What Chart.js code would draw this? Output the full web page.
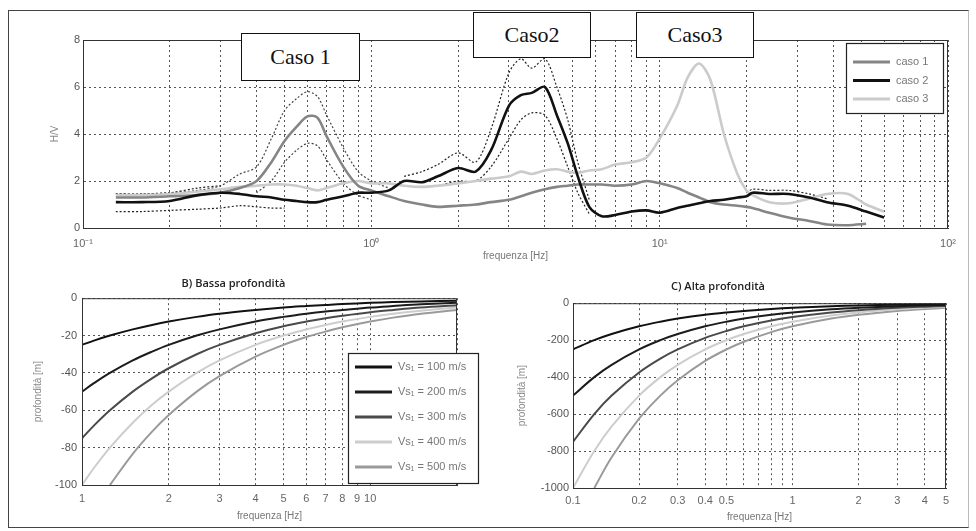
<!DOCTYPE html>
<html>
<head>
<meta charset="utf-8">
<script src="https://cdn.jsdelivr.net/npm/chart.js@4.4.1/dist/chart.umd.min.js"></script>
<style>
  body { margin: 0; background: #fff; width: 976px; height: 531px; position: relative; overflow: hidden; }
  #frame { position: absolute; left: 8px; top: 10px; width: 961px; height: 518px; border: 1px solid #444; border-right-color: #bbb; box-sizing: border-box; }
  canvas { position: absolute; }
  .note { position: absolute; background: #fff; border: 1.5px solid #111; box-sizing: border-box;
          font-family: 'Liberation Serif', 'Times New Roman', serif; font-size: 22px; color: #111;
          display: flex; align-items: center; justify-content: center; }
</style>
</head>
<body>
<div id="frame"></div>
<canvas id="hv" width="940" height="250" style="left:20px;top:20px"></canvas>
<canvas id="bassa" width="470" height="255" style="left:10px;top:270px"></canvas>
<canvas id="alta" width="470" height="255" style="left:490px;top:270px"></canvas>
<div class="note" style="left:241px;top:33px;width:119px;height:48px">Caso 1</div>
<div class="note" style="left:473px;top:12px;width:118px;height:46px">Caso2</div>
<div class="note" style="left:636px;top:12px;width:118px;height:46px">Caso3</div>

<script>
// ---- H/V curves (top) ----
const freqTop = [0.13, 0.16, 0.2, 0.25, 0.3, 0.35, 0.4, 0.45, 0.5, 0.55, 0.6, 0.65, 0.7, 0.8, 0.9, 1.0, 1.15, 1.3, 1.5, 1.7,
                 2.0, 2.3, 2.6, 3.0, 3.3, 3.6, 4.0, 4.4, 4.8, 5.2, 5.7, 6.3, 7, 8, 9, 10, 11.5, 12.5, 13.7, 15,
                 16.7, 18.6, 20, 21, 24, 28, 33, 38, 45, 52, 60];
const caso1 = [1.3, 1.3, 1.35, 1.4, 1.5, 1.7, 2.0, 2.8, 3.7, 4.3, 4.75, 4.7, 3.9, 2.6, 1.8, 1.6, 1.35, 1.15, 1.0, 0.9,
               0.95, 1.0, 1.1, 1.2, 1.35, 1.5, 1.65, 1.75, 1.8, 1.85, 1.85, 1.85, 1.8, 1.85, 2.0, 1.9, 1.7, 1.5, 1.3, 1.1,
               1.0, 0.95, 0.9, 0.85, 0.65, 0.45, 0.3, 0.15, 0.12, 0.18, null];
const caso1Up = [1.45, 1.45, 1.5, 1.6, 1.8, 2.3, 2.6, 3.8, 5.0, 5.5, 5.8, 5.6, 4.8, 3.4, 2.4, 2.0, 1.7, null, null, null,
                 null, null, null, null, null, null, null, null, null, null, null, null, null, null, null, null, null, null, null, null,
                 null, null, null, null, null, null, null, null, null, null, null];
const caso1Low = [null, null, null, null, null, null, 1.5, 2.0, 2.8, 3.3, 3.6, 3.5, 2.9, 1.9, 1.4, 1.2, null, null, null, null,
                  null, null, null, null, null, null, null, null, null, null, null, null, null, null, null, null, null, null, null, null,
                  null, null, null, null, null, null, null, null, null, null, null];
const caso2 = [1.1, 1.1, 1.15, 1.4, 1.5, 1.45, 1.35, 1.3, 1.2, 1.15, 1.1, 1.1, 1.2, 1.35, 1.5, 1.5, 1.6, 2.0, 1.95, 2.2,
               2.55, 2.4, 3.3, 5.2, 5.65, 5.75, 6.0, 4.8, 3.6, 2.2, 0.9, 0.5, 0.55, 0.7, 0.75, 0.65, 0.85, 0.95, 1.05, 1.15,
               1.2, 1.3, 1.35, 1.5, 1.45, 1.45, 1.3, 1.1, 0.95, 0.7, 0.45];
const caso2Up = [1.45, 1.45, 1.5, 1.7, 1.8, null, null, null, null, null, null, null, null, null, null, null, null, 2.2, 2.4, 2.7,
                 3.2, 2.8, 4.2, 6.6, 7.2, 6.8, 7.2, 6.0, 4.6, 2.8, 1.2, null, null, null, null, null, null, null, null, null,
                 null, null, 1.5, 1.65, 1.6, 1.6, 1.45, 1.25, null, null, null];
const caso2Low = [0.7, 0.7, 0.75, 0.8, 0.85, 0.95, 0.9, 0.85, 0.85, null, null, null, null, null, null, null, null, null, null, 1.8,
                  2.0, 2.0, 2.6, 3.8, 4.6, 4.9, 4.8, 3.8, 2.6, 1.5, 0.6, null, null, null, null, null, null, null, null, null,
                  null, null, null, null, null, null, null, null, null, null, null];
const caso3 = [1.4, 1.4, 1.45, 1.55, 1.65, 1.75, 1.8, 1.85, 1.85, 1.8, 1.7, 1.6, 1.7, 1.9, 2.0, 1.9, 1.9, 1.8, 1.75, 1.8,
               1.9, 2.0, 2.1, 2.2, 2.4, 2.3, 2.45, 2.5, 2.4, 2.35, 2.45, 2.5, 2.7, 2.8, 3.0, 3.8, 5.2, 6.4, 7.0, 6.3,
               4.0, 2.3, 1.6, 1.4, 1.1, 1.05, 1.25, 1.45, 1.45, 1.0, 0.7];
const casoLabels = ['caso 1', 'caso 2', 'caso 3'];
const topTicks = [0.1, 0.2, 0.3, 0.4, 0.5, 0.6, 0.7, 0.8, 0.9, 1, 2, 3, 4, 5, 6, 7, 8, 9,
                  10, 20, 30, 40, 50, 60, 70, 80, 90, 100];
const topDecades = [0.1, 1, 10, 100];
const topDecadeLabels = ['10⁻¹', '10⁰', '10¹', '10²'];

// ---- B) Bassa profondita ----
const vsValues = [100, 200, 300, 400, 500];
const freqB = [1, 1.1, 1.25, 1.5, 1.75, 2, 2.5, 3, 4, 5, 6, 7, 8, 10, 12, 15, 20];
const depthB100 = [-25, -22.7, -20, -16.7, -14.3, -12.5, -10, -8.3, -6.3, -5, -4.2, -3.6, -3.1, -2.5, -2.1, -1.7, -1.3];
const depthB200 = [-50, -45.5, -40, -33.3, -28.6, -25, -20, -16.7, -12.5, -10, -8.3, -7.1, -6.3, -5, -4.2, -3.3, -2.5];
const depthB300 = [-75, -68.2, -60, -50, -42.9, -37.5, -30, -25, -18.8, -15, -12.5, -10.7, -9.4, -7.5, -6.3, -5, -3.8];
const depthB400 = [-100, -90.9, -80, -66.7, -57.1, -50, -40, -33.3, -25, -20, -16.7, -14.3, -12.5, -10, -8.3, -6.7, -5];
const depthB500 = [null, null, -100, -83.3, -71.4, -62.5, -50, -41.7, -31.3, -25, -20.8, -17.9, -15.6, -12.5, -10.4, -8.3, -6.3];
const ticksB = [1, 2, 3, 4, 5, 6, 7, 8, 9, 10, 20];
const labelsB = ['1', '2', '3', '4', '5', '6', '7', '8', '9', '10', ''];

// ---- C) Alta profondita ----
const freqC = [0.1, 0.125, 0.15, 0.2, 0.25, 0.3, 0.4, 0.5, 0.6, 0.8, 1, 1.5, 2, 3, 4, 5];
const depthC100 = [-250, -200, -166.7, -125, -100, -83.3, -62.5, -50, -41.7, -31.3, -25, -16.7, -12.5, -8.3, -6.3, -5];
const depthC200 = [-500, -400, -333.3, -250, -200, -166.7, -125, -100, -83.3, -62.5, -50, -33.3, -25, -16.7, -12.5, -10];
const depthC300 = [-750, -600, -500, -375, -300, -250, -187.5, -150, -125, -93.8, -75, -50, -37.5, -25, -18.8, -15];
const depthC400 = [-1000, -800, -666.7, -500, -400, -333.3, -250, -200, -166.7, -125, -100, -66.7, -50, -33.3, -25, -20];
const depthC500 = [null, -1000, -833.3, -625, -500, -416.7, -312.5, -250, -208.3, -156.3, -125, -83.3, -62.5, -41.7, -31.3, -25];
const ticksC = [0.1, 0.2, 0.3, 0.4, 0.5, 0.6, 0.7, 0.8, 0.9, 1, 2, 3, 4, 5];
const labelsC = ['0.1', '0.2', '0.3', '0.4', '0.5', '', '', '', '', '1', '2', '3', '4', '5'];

const vsColors = ['#111111', '#1c1c1c', '#4a4a4a', '#cdcdcd', '#9a9a9a'];
const casoColors = ['#858585', '#111111', '#cbcbcb'];

const AXIS_FONT = 'Liberation Sans';

function pts(xs, ys) {
    return xs.map((x, i) => ({ x: x, y: ys[i] }));
}

// box around the plot area, MATLAB style
const frameBox = {
    id: 'frameBox',
    afterDraw(chart) {
        const a = chart.chartArea, ctx = chart.ctx;
        ctx.save();
        ctx.strokeStyle = '#333';
        ctx.lineWidth = 1;
        ctx.strokeRect(a.left + 0.5, a.top + 0.5, a.right - a.left - 1, a.bottom - a.top);
        ctx.restore();
    }
};

// small boxed legend drawn at a fixed spot in the canvas
function boxLegend(box, labels, colors, rowGap, firstRow) {
    return {
        id: 'boxLegend',
        afterDraw(chart) {
            const ctx = chart.ctx;
            ctx.save();
            ctx.fillStyle = '#fff';
            ctx.fillRect(box.x, box.y, box.w, box.h);
            ctx.strokeStyle = '#222';
            ctx.lineWidth = 1.2;
            ctx.strokeRect(box.x + 0.5, box.y + 0.5, box.w, box.h);
            ctx.font = '11px "' + AXIS_FONT + '"';
            ctx.textBaseline = 'middle';
            labels.forEach((lab, i) => {
                const y = box.y + firstRow + i * rowGap;
                ctx.strokeStyle = colors[i];
                ctx.lineWidth = 3;
                ctx.beginPath();
                ctx.moveTo(box.x + 7, y);
                ctx.lineTo(box.x + 44, y);
                ctx.stroke();
                ctx.fillStyle = '#777';
                ctx.fillText(lab, box.x + 50, y);
            });
            ctx.restore();
        }
    };
}

function logAxis(min, max, tickValues, labelFor, padding, height, titlePad) {
    return {
        type: 'logarithmic',
        min: min,
        max: max,
        afterBuildTicks: (scale) => { scale.ticks = tickValues.map(v => ({ value: v })); },
        afterFit: (scale) => {
            scale.height = height;
            scale.paddingLeft = 0;
            scale.paddingRight = 0;
        },
        ticks: {
            autoSkip: false, maxRotation: 0, padding: padding,
            color: '#666', font: { family: AXIS_FONT, size: 11 },
            callback: (value) => labelFor(value)
        },
        grid: { color: '#555', lineWidth: 1, drawTicks: false },
        border: { display: true, color: '#333', dash: [2, 3] },
        title: { display: true, text: 'frequenza [Hz]', color: '#777',
                 font: { family: AXIS_FONT, size: 10 }, padding: { top: 0, bottom: titlePad } }
    };
}

function linAxis(min, max, step, width, padding, title, titlePad) {
    return {
        min: min, max: max,
        afterFit: (scale) => { scale.width = width; },
        ticks: { stepSize: step, padding: padding, color: '#555', font: { family: AXIS_FONT, size: 11 },
                 callback: (value) => String(value) },
        grid: { color: '#555', lineWidth: 1, drawTicks: false },
        border: { display: true, color: '#333', dash: [2, 3] },
        title: { display: true, text: title, color: '#888',
                 font: { family: AXIS_FONT, size: 10 }, padding: { top: titlePad, bottom: 0 } }
    };
}

// top chart: H/V
const hvSets = [
    { data: pts(freqTop, caso2), borderColor: casoColors[1], borderWidth: 2.6, order: 0 },
    { data: pts(freqTop, caso1), borderColor: casoColors[0], borderWidth: 2.6, order: 1 },
    { data: pts(freqTop, caso3), borderColor: casoColors[2], borderWidth: 2.6, order: 2 },
    { data: pts(freqTop, caso1Up), borderColor: '#444', borderWidth: 1.2, borderDash: [2, 2], order: 3 },
    { data: pts(freqTop, caso1Low), borderColor: '#444', borderWidth: 1.2, borderDash: [2, 2], order: 3 },
    { data: pts(freqTop, caso2Up), borderColor: '#222', borderWidth: 1.2, borderDash: [2, 2], order: 3 },
    { data: pts(freqTop, caso2Low), borderColor: '#222', borderWidth: 1.2, borderDash: [2, 2], order: 3 }
];

new Chart(document.getElementById('hv'), {
    type: 'line',
    data: { datasets: hvSets },
    options: {
        responsive: false,
        animation: false,
        layout: { padding: { top: 20, right: 12, left: 0, bottom: 0 } },
        elements: { point: { radius: 0 }, line: { tension: 0.3 } },
        plugins: { legend: { display: false }, tooltip: { enabled: false } },
        scales: {
            x: logAxis(0.1, 100, topTicks, (v) => {
                const k = topDecades.indexOf(v);
                return k >= 0 ? topDecadeLabels[k] : '';
            }, 9, 42, 8),
            y: linAxis(0, 8, 2, 63, 3, 'H/V', 29)
        }
    },
    plugins: [frameBox, boxLegend({ x: 826, y: 23, w: 97, h: 70 }, casoLabels, casoColors, 18.5, 19)]
});

// bottom charts
const vsLabels = vsValues.map(v => 'Vs\u2081 = ' + v + ' m/s');

function depthChart(id, title, xs, series, axisX, axisY, titlePad, rightPad, legend) {
    const sets = series.map((ys, i) => ({
        data: pts(xs, ys), borderColor: vsColors[i], borderWidth: 2, order: i
    }));
    const plugins = [frameBox];
    if (legend) plugins.push(boxLegend(legend, vsLabels, vsColors, 25, 14));
    return new Chart(document.getElementById(id), {
        type: 'line',
        data: { datasets: sets },
        options: {
            responsive: false,
            animation: false,
            layout: { padding: { top: 0, right: rightPad, left: 0, bottom: 0 } },
            elements: { point: { radius: 0 }, line: { tension: 0.35 } },
            plugins: {
                legend: { display: false },
                tooltip: { enabled: false },
                title: { display: true, text: title, color: '#222',
                         font: { family: 'Open Sans', size: 11, weight: '600' }, padding: titlePad }
            },
            scales: { x: axisX, y: axisY }
        },
        plugins: plugins
    });
}

depthChart('bassa', 'B) Bassa profondità', freqB,
    [depthB100, depthB200, depthB300, depthB400, depthB500],
    logAxis(1, 20, ticksB, (v) => labelsB[ticksB.indexOf(v)] || '', 7, 40, 3),
    linAxis(-100, 0, 20, 72, 5, 'profondità [m]', 22),
    { top: 7, bottom: 8 }, 23,
    { x: 338, y: 83, w: 130, h: 130 });

depthChart('alta', 'C) Alta profondità', freqC,
    [depthC100, depthC200, depthC300, depthC400, depthC500],
    logAxis(0.1, 5, ticksC, (v) => labelsC[ticksC.indexOf(v)] || '', 6, 37, 2),
    linAxis(-1000, 0, 200, 83, 4, 'profondità [m]', 26),
    { top: 10, bottom: 10 }, 14,
    null);
</script>
</body>
</html>
